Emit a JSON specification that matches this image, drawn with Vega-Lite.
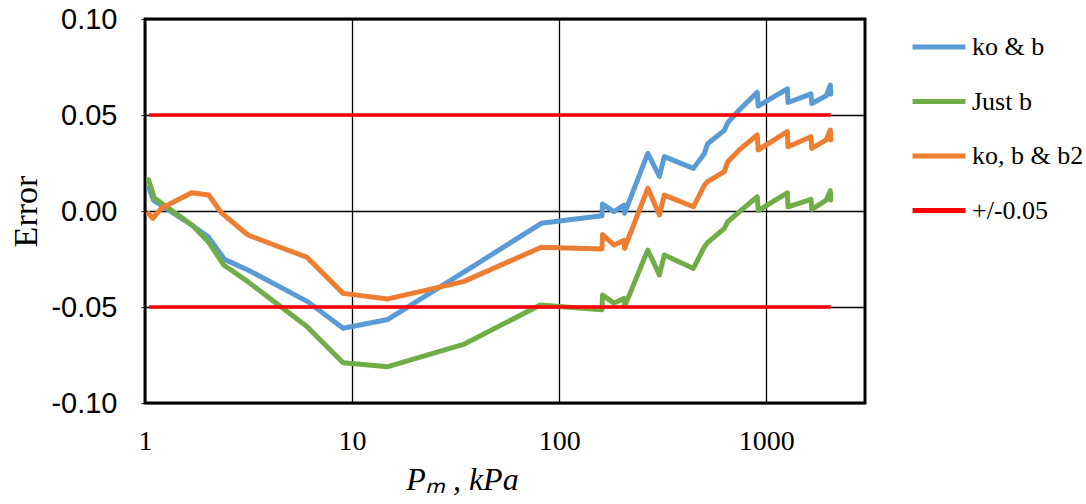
{
  "$schema": "https://vega.github.io/schema/vega-lite/v6.json",
  "width": 720,
  "height": 384,
  "autosize": {"type": "none"},
  "padding": {"left": 145, "top": 19, "right": 221, "bottom": 101},
  "background": "white",
  "config": {
    "view": {"stroke": "black", "strokeWidth": 3},
    "legend": {"symbolType": "stroke", "symbolSize": 2800, "symbolStrokeWidth": 5}
  },
  "datasets": {
    "series": [
      {"s": "ko & b", "i": 1, "P": 1.045, "E": 0.012},
      {"s": "ko & b", "i": 2, "P": 1.1, "E": 0.0055},
      {"s": "ko & b", "i": 3, "P": 1.68, "E": -0.0073},
      {"s": "ko & b", "i": 4, "P": 2.02, "E": -0.0134},
      {"s": "ko & b", "i": 5, "P": 2.42, "E": -0.0252},
      {"s": "ko & b", "i": 6, "P": 3.14, "E": -0.0307},
      {"s": "ko & b", "i": 7, "P": 6.1, "E": -0.0472},
      {"s": "ko & b", "i": 8, "P": 9.05, "E": -0.0611},
      {"s": "ko & b", "i": 9, "P": 14.9, "E": -0.0565},
      {"s": "ko & b", "i": 10, "P": 34.5, "E": -0.032},
      {"s": "ko & b", "i": 11, "P": 82, "E": -0.0064},
      {"s": "ko & b", "i": 12, "P": 161, "E": -0.0025},
      {"s": "ko & b", "i": 13, "P": 162, "E": 0.0036},
      {"s": "ko & b", "i": 14, "P": 184, "E": -0.0003},
      {"s": "ko & b", "i": 15, "P": 206, "E": 0.003},
      {"s": "ko & b", "i": 16, "P": 207, "E": -0.0012},
      {"s": "ko & b", "i": 17, "P": 268, "E": 0.03},
      {"s": "ko & b", "i": 18, "P": 305, "E": 0.018},
      {"s": "ko & b", "i": 19, "P": 322, "E": 0.0283},
      {"s": "ko & b", "i": 20, "P": 445, "E": 0.0222},
      {"s": "ko & b", "i": 21, "P": 503, "E": 0.03},
      {"s": "ko & b", "i": 22, "P": 521, "E": 0.035},
      {"s": "ko & b", "i": 23, "P": 628, "E": 0.042},
      {"s": "ko & b", "i": 24, "P": 652, "E": 0.046},
      {"s": "ko & b", "i": 25, "P": 741, "E": 0.0526},
      {"s": "ko & b", "i": 26, "P": 905, "E": 0.0618},
      {"s": "ko & b", "i": 27, "P": 915, "E": 0.0547},
      {"s": "ko & b", "i": 28, "P": 1265, "E": 0.0636},
      {"s": "ko & b", "i": 29, "P": 1275, "E": 0.0565},
      {"s": "ko & b", "i": 30, "P": 1645, "E": 0.061},
      {"s": "ko & b", "i": 31, "P": 1660, "E": 0.056},
      {"s": "ko & b", "i": 32, "P": 1950, "E": 0.06},
      {"s": "ko & b", "i": 33, "P": 2040, "E": 0.0656},
      {"s": "ko & b", "i": 34, "P": 2050, "E": 0.0608},
      {"s": "Just b", "i": 1, "P": 1.04, "E": 0.0163},
      {"s": "Just b", "i": 2, "P": 1.11, "E": 0.0067},
      {"s": "Just b", "i": 3, "P": 1.68, "E": -0.0072},
      {"s": "Just b", "i": 4, "P": 2.02, "E": -0.016},
      {"s": "Just b", "i": 5, "P": 2.4, "E": -0.0281},
      {"s": "Just b", "i": 6, "P": 3.14, "E": -0.0368},
      {"s": "Just b", "i": 7, "P": 6.05, "E": -0.0602},
      {"s": "Just b", "i": 8, "P": 9.05, "E": -0.079},
      {"s": "Just b", "i": 9, "P": 14.9, "E": -0.0811},
      {"s": "Just b", "i": 10, "P": 34.5, "E": -0.0695},
      {"s": "Just b", "i": 11, "P": 81, "E": -0.049},
      {"s": "Just b", "i": 12, "P": 161, "E": -0.0514},
      {"s": "Just b", "i": 13, "P": 162, "E": -0.0438},
      {"s": "Just b", "i": 14, "P": 184, "E": -0.048},
      {"s": "Just b", "i": 15, "P": 206, "E": -0.0455},
      {"s": "Just b", "i": 16, "P": 207, "E": -0.0498},
      {"s": "Just b", "i": 17, "P": 268, "E": -0.0203},
      {"s": "Just b", "i": 18, "P": 305, "E": -0.0333},
      {"s": "Just b", "i": 19, "P": 322, "E": -0.0229},
      {"s": "Just b", "i": 20, "P": 445, "E": -0.0299},
      {"s": "Just b", "i": 21, "P": 503, "E": -0.0186},
      {"s": "Just b", "i": 22, "P": 521, "E": -0.0165},
      {"s": "Just b", "i": 23, "P": 628, "E": -0.009},
      {"s": "Just b", "i": 24, "P": 652, "E": -0.0056},
      {"s": "Just b", "i": 25, "P": 741, "E": -0.0004},
      {"s": "Just b", "i": 26, "P": 905, "E": 0.0074},
      {"s": "Just b", "i": 27, "P": 915, "E": 0.0002},
      {"s": "Just b", "i": 28, "P": 1265, "E": 0.0095},
      {"s": "Just b", "i": 29, "P": 1275, "E": 0.0022},
      {"s": "Just b", "i": 30, "P": 1645, "E": 0.0061},
      {"s": "Just b", "i": 31, "P": 1660, "E": 0.0009},
      {"s": "Just b", "i": 32, "P": 1950, "E": 0.0057},
      {"s": "Just b", "i": 33, "P": 2040, "E": 0.0106},
      {"s": "Just b", "i": 34, "P": 2050, "E": 0.0057},
      {"s": "ko, b & b2", "i": 1, "P": 1.04, "E": -0.0012},
      {"s": "ko, b & b2", "i": 2, "P": 1.09, "E": -0.0038},
      {"s": "ko, b & b2", "i": 3, "P": 1.2, "E": 0.0014},
      {"s": "ko, b & b2", "i": 4, "P": 1.68, "E": 0.0095},
      {"s": "ko, b & b2", "i": 5, "P": 2.03, "E": 0.0083},
      {"s": "ko, b & b2", "i": 6, "P": 2.34, "E": -0.001},
      {"s": "ko, b & b2", "i": 7, "P": 3.14, "E": -0.0125},
      {"s": "ko, b & b2", "i": 8, "P": 6.05, "E": -0.0241},
      {"s": "ko, b & b2", "i": 9, "P": 9.05, "E": -0.0429},
      {"s": "ko, b & b2", "i": 10, "P": 14.9, "E": -0.0458},
      {"s": "ko, b & b2", "i": 11, "P": 34.5, "E": -0.0368},
      {"s": "ko, b & b2", "i": 12, "P": 82, "E": -0.0189},
      {"s": "ko, b & b2", "i": 13, "P": 161, "E": -0.0198},
      {"s": "ko, b & b2", "i": 14, "P": 162, "E": -0.0123},
      {"s": "ko, b & b2", "i": 15, "P": 184, "E": -0.0177},
      {"s": "ko, b & b2", "i": 16, "P": 206, "E": -0.0153},
      {"s": "ko, b & b2", "i": 17, "P": 207, "E": -0.0194},
      {"s": "ko, b & b2", "i": 18, "P": 268, "E": 0.0118},
      {"s": "ko, b & b2", "i": 19, "P": 305, "E": -0.0021},
      {"s": "ko, b & b2", "i": 20, "P": 322, "E": 0.0083},
      {"s": "ko, b & b2", "i": 21, "P": 445, "E": 0.0022},
      {"s": "ko, b & b2", "i": 22, "P": 503, "E": 0.0135},
      {"s": "ko, b & b2", "i": 23, "P": 521, "E": 0.0153},
      {"s": "ko, b & b2", "i": 24, "P": 628, "E": 0.0205},
      {"s": "ko, b & b2", "i": 25, "P": 652, "E": 0.0257},
      {"s": "ko, b & b2", "i": 26, "P": 741, "E": 0.0318},
      {"s": "ko, b & b2", "i": 27, "P": 905, "E": 0.0396},
      {"s": "ko, b & b2", "i": 28, "P": 915, "E": 0.0318},
      {"s": "ko, b & b2", "i": 29, "P": 1265, "E": 0.0413},
      {"s": "ko, b & b2", "i": 30, "P": 1275, "E": 0.0335},
      {"s": "ko, b & b2", "i": 31, "P": 1645, "E": 0.0387},
      {"s": "ko, b & b2", "i": 32, "P": 1660, "E": 0.0326},
      {"s": "ko, b & b2", "i": 33, "P": 1950, "E": 0.037},
      {"s": "ko, b & b2", "i": 34, "P": 2040, "E": 0.0422},
      {"s": "ko, b & b2", "i": 35, "P": 2050, "E": 0.037}
    ],
    "limits": [
      {"s": "+/-0.05", "g": "hi", "P": 1.045, "E": 0.05},
      {"s": "+/-0.05", "g": "hi", "P": 2050, "E": 0.05},
      {"s": "+/-0.05", "g": "lo", "P": 1.045, "E": -0.05},
      {"s": "+/-0.05", "g": "lo", "P": 2050, "E": -0.05}
    ]
  },
  "encoding": {
    "x": {
      "field": "P", "type": "quantitative",
      "scale": {"type": "log", "domain": [1, 3000], "nice": false},
      "axis": {
        "values": [1, 10, 100, 1000], "format": "d", "labelFlush": false,
        "labelFont": "Liberation Serif", "labelFontSize": 28, "labelColor": "black",
        "labelPadding": 24, "ticks": false, "domain": false,
        "grid": true, "gridColor": "black", "gridWidth": 1.3, "gridOpacity": 1,
        "title": "Pₘ , kPa", "titleFont": "Liberation Serif", "titleFontStyle": "italic",
        "titleFontWeight": "normal", "titleFontSize": 32, "titleColor": "black",
        "titleX": 317, "titleY": 86, "titleBaseline": "alphabetic"
      }
    },
    "y": {
      "field": "E", "type": "quantitative",
      "scale": {"domain": [-0.1, 0.1], "nice": false},
      "axis": {
        "values": [-0.1, -0.05, 0, 0.05, 0.1],
        "labelExpr": "replace(format(datum.value, '.2f'), '\u2212', '-')",
        "labelFont": "Liberation Sans", "labelFontSize": 29, "labelColor": "black",
        "labelPadding": 24, "ticks": true, "tickSize": 4, "tickColor": "black", "domain": false,
        "grid": true, "gridColor": "black", "gridWidth": 1.3, "gridOpacity": 1,
        "title": "Error", "titleFont": "Liberation Serif", "titleFontWeight": "normal",
        "titleFontSize": 34, "titleColor": "black", "titleAngle": 270,
        "titleX": -109, "titleY": 192, "titleBaseline": "alphabetic", "titleAlign": "center"
      }
    },
    "color": {
      "field": "s", "type": "nominal",
      "scale": {
        "domain": ["ko & b", "Just b", "ko, b & b2", "+/-0.05"],
        "range": ["#5B9BD5", "#70AD47", "#ED7D31", "#FF0000"]
      },
      "legend": {
        "orient": "none", "legendX": 765, "legendY": -1, "title": null,
        "labelFont": "Liberation Serif", "labelFontSize": 26, "labelColor": "black",
        "labelOffset": 4, "rowPadding": 12.5, "padding": 0, "labelLimit": 300
      }
    }
  },
  "layer": [
    {
      "data": {"name": "series"},
      "mark": {"type": "line", "strokeWidth": 5, "strokeJoin": "round", "strokeCap": "round"},
      "encoding": {"order": {"field": "i", "type": "quantitative"}}
    },
    {
      "data": {"name": "limits"},
      "mark": {"type": "line", "strokeWidth": 3.5},
      "encoding": {"detail": {"field": "g", "type": "nominal"}}
    }
  ]
}
